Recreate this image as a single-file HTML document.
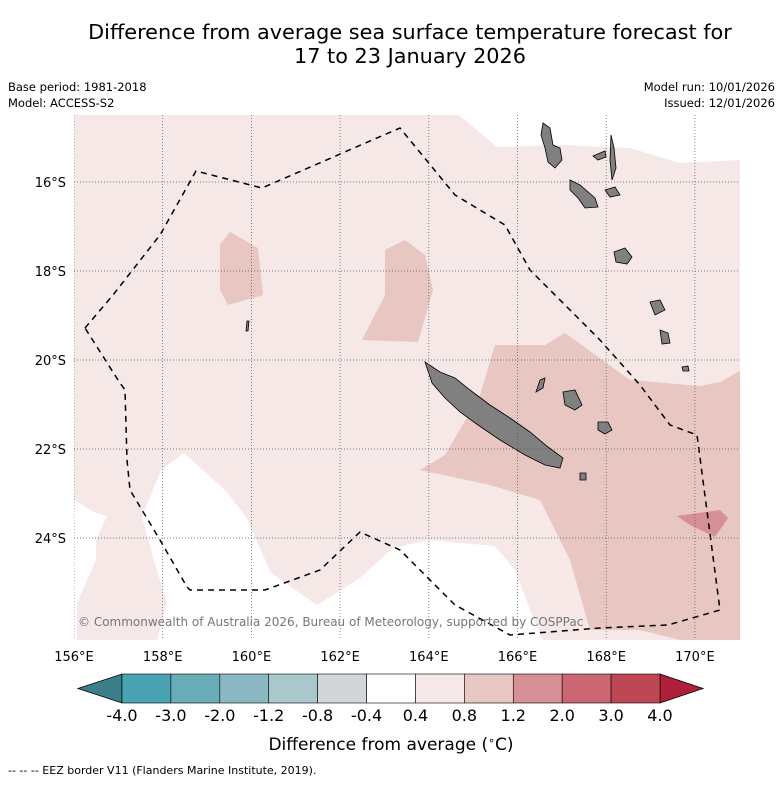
<!DOCTYPE html>
<html><head><meta charset="utf-8"><style>
body{margin:0;background:#fff;font-family:"Liberation Sans",sans-serif;}
svg text{font-family:"DejaVu Sans","Liberation Sans",sans-serif;}
</style></head><body>
<svg width="781" height="781" viewBox="0 0 781 781" xmlns="http://www.w3.org/2000/svg">
<text x="410" y="39" font-size="20.8" text-anchor="middle">Difference from average sea surface temperature forecast for</text>
<text x="410" y="63" font-size="20.8" text-anchor="middle">17 to 23 January 2026</text>
<text x="8" y="91" font-size="11.5">Base period: 1981-2018</text>
<text x="8" y="107" font-size="11.5">Model: ACCESS-S2</text>
<text x="775" y="91" font-size="11.5" text-anchor="end">Model run: 10/01/2026</text>
<text x="775" y="107" font-size="11.5" text-anchor="end">Issued: 12/01/2026</text>
<defs><clipPath id="mc"><rect x="74" y="115" width="666" height="525"/></clipPath></defs>
<g clip-path="url(#mc)">
<rect x="74" y="115" width="666" height="525" fill="#f5e8e6"/>
<polygon points="453,110 497,147 560,145 630,148 680,163 740,160 745,110" fill="#fff"/>
<polygon points="70,498 96,513 107,516 96,540 96,560 77,603 77,645 70,645" fill="#fff"/>
<polygon points="156,645 167,603 154,560 142,517 161,470 184,453 227,492 246,517 271,573 317,605 360,578 393,548 430,540 495,546 515,570 530,610 545,645" fill="#fff"/>
<polygon points="230,232 258,248 263,295 228,305 220,290 220,245" fill="#e8c6c2"/>
<polygon points="362,340 385,295 385,250 405,240 425,255 433,290 418,342" fill="#e8c6c2"/>
<polygon points="420,470 445,455 480,395 495,345 545,345 565,333 630,380 700,386 720,382 745,368 745,645 700,645 640,630 590,630 570,560 540,500 490,485" fill="#e8c6c2"/>
<polygon points="677,516 720,510 728,518 715,537 690,525" fill="#d68f94"/>
<g fill="#808080" stroke="#000" stroke-width="0.8">
<polygon points="425,362 440,372 455,378 470,390 490,405 510,418 530,432 548,447 563,458 560,468 545,465 525,455 500,440 478,425 460,412 445,398 432,383"/>
<polygon points="543,123 550,128 553,145 560,148 562,160 555,168 548,162 545,148 541,135"/>
<polygon points="570,180 580,185 595,198 598,207 585,208 578,198 570,190"/>
<polygon points="593,156 605,151 606,157 598,160"/>
<polygon points="611,135 614,148 616,168 612,180 610,160"/>
<polygon points="605,190 615,187 620,195 610,197"/>
<polygon points="614,252 625,248 632,257 627,264 616,262"/>
<polygon points="650,302 660,300 665,310 655,315"/>
<polygon points="660,330 668,333 670,343 662,344"/>
<polygon points="682,367 688,366 689,371 683,371"/>
<polygon points="563,392 575,390 582,405 575,410 565,405"/>
<polygon points="598,422 608,422 612,430 605,434 598,430"/>
<polygon points="540,380 545,378 543,388 536,392"/>
<polygon points="580,473 586,473 586,480 580,480"/>
<polygon points="247,321 249,321 248,331 246,331"/>
</g>
<polyline points="85,328 113,295 160,235 196,171 262,188 400,128 455,195 505,225 530,270 570,310 600,340 640,385 670,425 697,435 720,610 668,625 600,628 510,635 455,605 400,550 360,532 320,570 265,590 190,590 187,587 160,540 130,490 127,460 125,390 118,380 85,328" fill="none" stroke="#000" stroke-width="1.5" stroke-dasharray="6,5"/>
<g id="grid" stroke="#555" stroke-width="0.7" stroke-dasharray="1,2"></g>
<text x="78" y="626" font-size="12" fill="#777">© Commonwealth of Australia 2026, Bureau of Meteorology, supported by COSPPac</text>
</g>
<g id="ticks" font-size="13"></g>
<g id="cbar"></g>
<text x="391" y="750" font-size="17" text-anchor="middle">Difference from average (<tspan baseline-shift="super" font-size="11">∘</tspan>C)</text>
<text x="8" y="774" font-size="11">-- -- -- EEZ border V11 (Flanders Marine Institute, 2019).</text>
</svg>
<script>
const lonTicks=[156,158,160,162,164,166,168,170];
const latTicks=[16,18,20,22,24];
const levels=["-4.0","-3.0","-2.0","-1.2","-0.8","-0.4","0.4","0.8","1.2","2.0","3.0","4.0"];
const colors=["#4aa3b3","#6aacb8","#8ab8c2","#a8c8cc","#d3d6d8","#ffffff","#f5e8e6","#e8c6c2","#d68f94","#cb6672","#bf4655"];
const NS="http://www.w3.org/2000/svg";
const X=l=>74+(l-156)*44.35, Y=s=>182+(s-16)*44.5;
const grid=document.getElementById('grid'),ticks=document.getElementById('ticks');
function mk(tag,at,par){const e=document.createElementNS(NS,tag);for(const k in at)e.setAttribute(k,at[k]);par.appendChild(e);return e;}
lonTicks.forEach(l=>{
 const g=mk('line',{x1:X(l),x2:X(l),y1:115,y2:640},grid);
 
 
 const t=mk('text',{x:X(l),y:661,'text-anchor':'middle'},ticks);t.textContent=l+'°E';
 
 
});
latTicks.forEach(s=>{
 const g=mk('line',{x1:74,x2:740,y1:Y(s),y2:Y(s)},grid);
 
 
 const t=mk('text',{x:66,y:Y(s)+5,'text-anchor':'end'},ticks);t.textContent=s+'°S';
 
 
});
const cb=document.getElementById('cbar');
const x0=122,x1=660,y0=674,h=29,w=(x1-x0)/colors.length;
const lt=mk('polygon',{points:`${x0},${y0} ${x0},${y0+h} 78,${y0+h/2}`,fill:'#3a7f8a',stroke:'#000','stroke-width':0.8},cb);


const rt=mk('polygon',{points:`${x1},${y0} ${x1},${y0+h} 703,${y0+h/2}`,fill:'#b01e3a',stroke:'#000','stroke-width':0.8},cb);


colors.forEach((c,i)=>{
 const r=mk('rect',{x:x0+i*w,y:y0,width:w,height:h,fill:c,stroke:'#000','stroke-width':0.6},cb);
 
 
});
levels.forEach((v,i)=>{
 const t=mk('text',{x:x0+i*w,y:721,'text-anchor':'middle','font-size':16},cb);t.textContent=v;
 
 
});
</script>
</body></html>
